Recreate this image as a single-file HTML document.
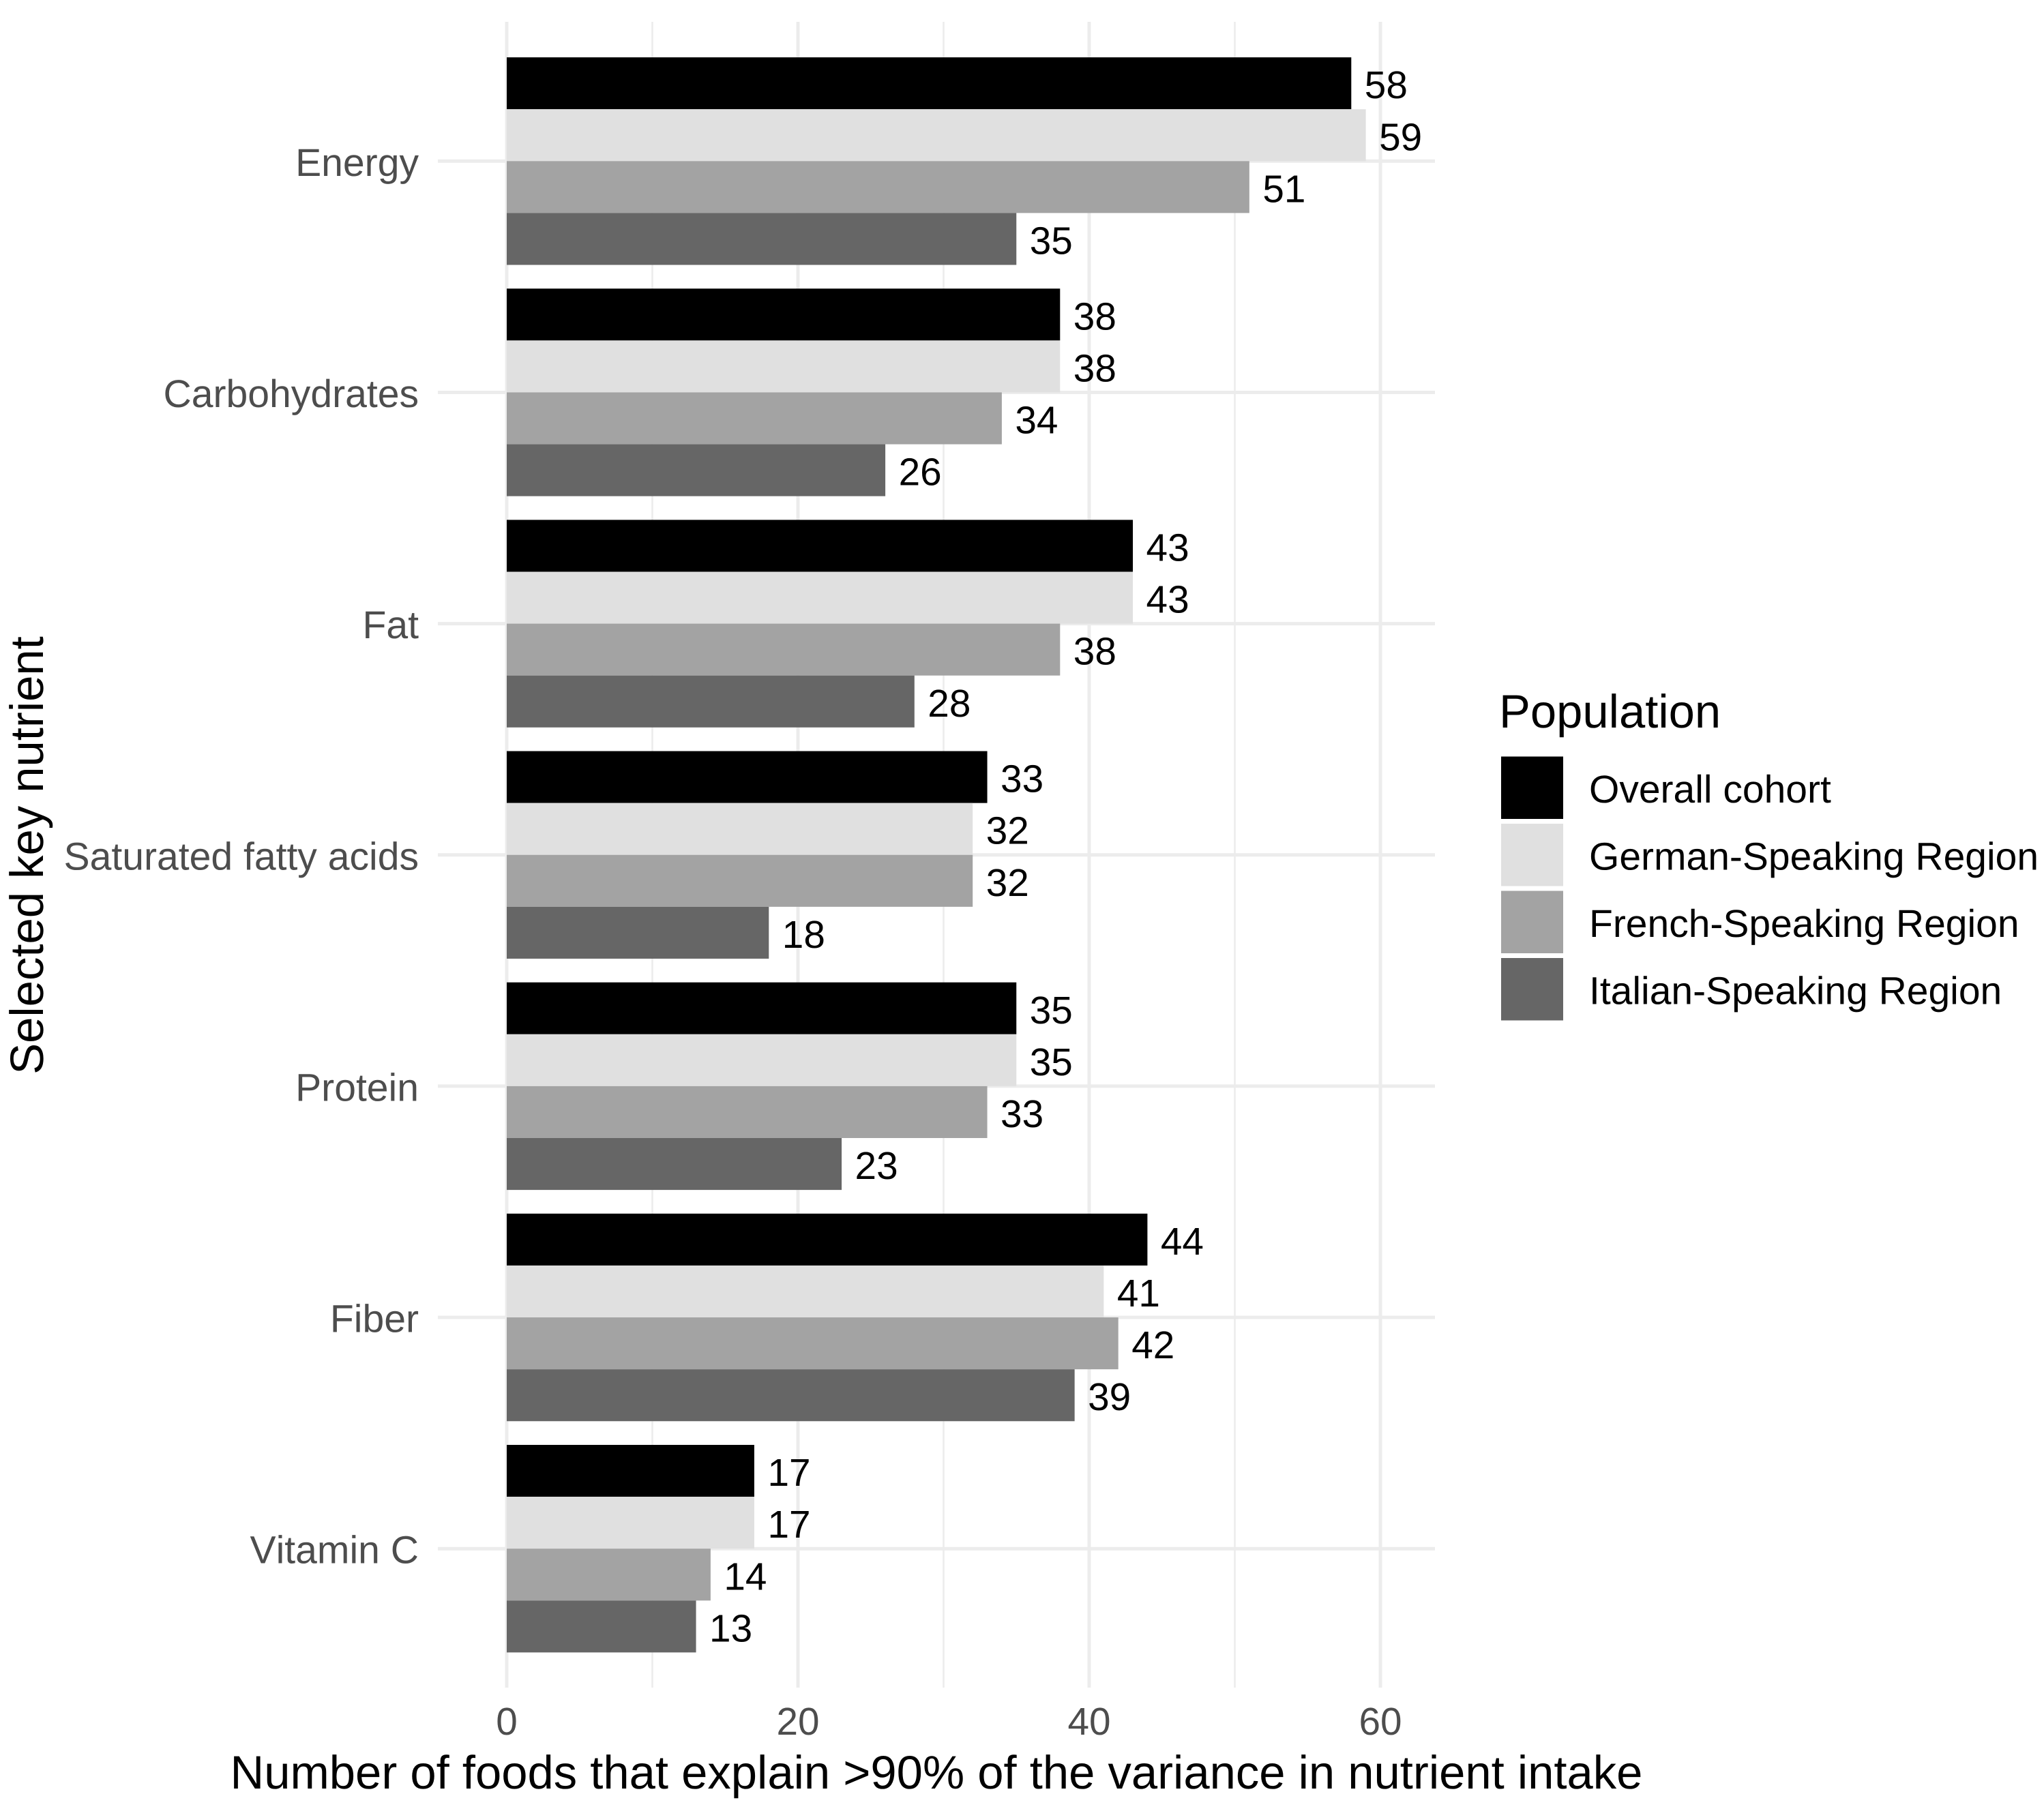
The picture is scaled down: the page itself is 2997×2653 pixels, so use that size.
<!DOCTYPE html>
<html lang="en">
<head>
<meta charset="utf-8">
<title>Number of foods that explain over 90% of nutrient intake variance</title>
<style>
  html, body { margin: 0; padding: 0; background: #fff; }
  svg { display: block; }
  text { font-family: "Liberation Sans", Arial, sans-serif; text-rendering: geometricPrecision; font-kerning: none; }
</style>
</head>
<body>
<svg id="chart" xmlns="http://www.w3.org/2000/svg" width="2997" height="2653" viewBox="0 0 2997 2653">
  <rect x="0" y="0" width="2997" height="2653" fill="#ffffff"/>
  <g id="grid"></g>
  <g id="bars"></g>
  <g id="values"></g>
  <g id="y-ticks"></g>
  <g id="x-ticks"></g>
  <text x="1373" y="2623" font-size="68.8" text-anchor="middle" fill="#000">Number of foods that explain &gt;90% of the variance in nutrient intake</text>
  <text transform="translate(63 1254.5) rotate(-90)" x="0" y="0" font-size="68.8" text-anchor="middle" fill="#000">Selected key nutrient</text>
  <g id="legend">
    <text x="2198" y="1067" font-size="68.8" fill="#000">Population</text>
  </g>
</svg>
<script>
const categories = ["Energy", "Carbohydrates", "Fat", "Saturated fatty acids", "Protein", "Fiber", "Vitamin C"];
const seriesNames = ["Overall cohort", "German-Speaking Region", "French-Speaking Region", "Italian-Speaking Region"];
const overallCohort = [58, 38, 43, 33, 35, 44, 17];
const germanRegion = [59, 38, 43, 32, 35, 41, 17];
const frenchRegion = [51, 34, 38, 32, 33, 42, 14];
const italianRegion = [35, 26, 28, 18, 23, 39, 13];
const majorTicks = [0, 20, 40, 60];
const minorTicks = [10, 30, 50];

const seriesValues = [overallCohort, germanRegion, frenchRegion, italianRegion];
const seriesColors = ["#000000", "#e0e0e0", "#a3a3a3", "#666666"];
const seriesSlugs = ["overall", "german", "french", "italian"];
const SVG_NS = "http://www.w3.org/2000/svg";

const panel = { left: 642, right: 2104, top: 32, bottom: 2475 };
const xOrigin = 743;
const xPerUnit = 21.35;
const yFirst = 236.3;
const yStep = 339.15;
const barHeight = 76.1;

function xScale(v) { return xOrigin + v * xPerUnit; }
function yScale(i) { return yFirst + i * yStep; }
function barTop(catIndex, seriesIndex) {
  return yScale(catIndex) + (seriesIndex - 2) * barHeight;
}
function make(tag, parent, attrs, content) {
  const el = document.createElementNS(SVG_NS, tag);
  Object.keys(attrs).forEach(function (k) { el.setAttribute(k, attrs[k]); });
  if (content !== undefined) el.textContent = content;
  parent.appendChild(el);
  return el;
}
function slug(s) { return s.toLowerCase().replace(/[^a-z0-9]+/g, "-"); }

const gridG = document.getElementById("grid");
const barsG = document.getElementById("bars");
const valuesG = document.getElementById("values");
const yTicksG = document.getElementById("y-ticks");
const xTicksG = document.getElementById("x-ticks");
const legendG = document.getElementById("legend");

minorTicks.forEach(function (t) {
  const el = make("line", gridG, { x1: xScale(t), x2: xScale(t), y1: panel.top, y2: panel.bottom, stroke: "#ececec", "stroke-width": 2.5 });
  
  
});
majorTicks.forEach(function (t) {
  const el = make("line", gridG, { x1: xScale(t), x2: xScale(t), y1: panel.top, y2: panel.bottom, stroke: "#ececec", "stroke-width": 5 });
  
  
  const label = make("text", xTicksG, { x: xScale(t), y: 2544, "font-size": 56.7, "text-anchor": "middle", fill: "#4d4d4d" }, String(t));
  
  
});

categories.forEach(function (cat, i) {
  const grid = make("line", gridG, { x1: panel.left, x2: panel.right, y1: yScale(i), y2: yScale(i), stroke: "#ececec", "stroke-width": 5 });
  
  
  const label = make("text", yTicksG, { x: 614, y: yScale(i) + 21.5, "font-size": 57.1, "text-anchor": "end", fill: "#4d4d4d" }, cat);
  
  

  seriesValues.forEach(function (values, s) {
    const top = barTop(i, s);
    const bar = make("rect", barsG, { x: xScale(0), y: top, width: xScale(values[i]) - xScale(0), height: barHeight, fill: seriesColors[s] });
    
    
    const val = make("text", valuesG, { x: xScale(values[i]) + 19.5, y: top + barHeight / 2 + 22, "font-size": 56.7, fill: "#000" }, String(values[i]));
    
    
  });
});

seriesNames.forEach(function (name, s) {
  const keyTop = 1109.5 + s * 98.5;
  const key = make("rect", legendG, { x: 2201, y: keyTop, width: 91, height: 91.5, fill: seriesColors[s] });
  
  
  const entry = make("text", legendG, { x: 2330, y: keyTop + 67.5, "font-size": 57, fill: "#000" }, name);
  
  
});
</script>
</body>
</html>
